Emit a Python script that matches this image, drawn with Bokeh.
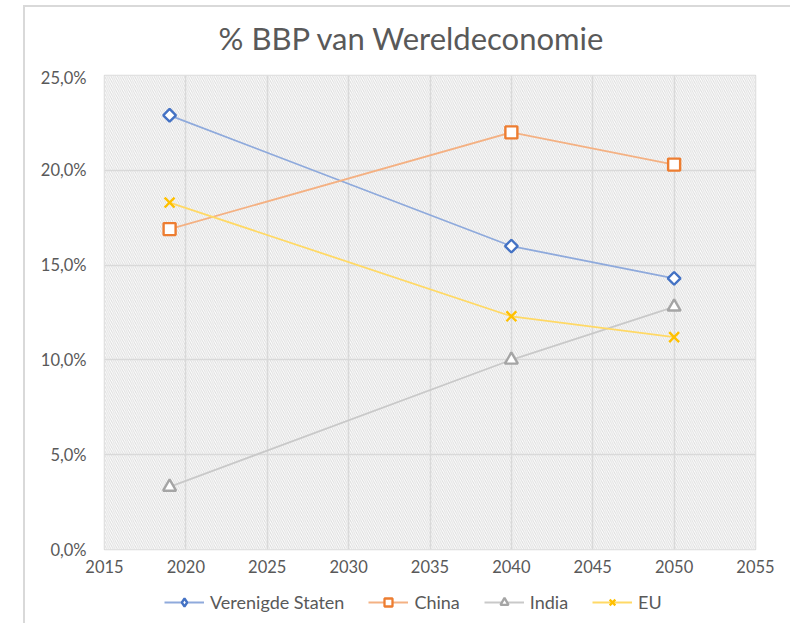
from bokeh.plotting import figure
from bokeh.layouts import column
from bokeh.models import (Range1d, FixedTicker, CustomJSTickFormatter, Legend, LegendItem, Label)
from bokeh.embed import file_html
from bokeh.resources import INLINE

# ---- data ----
years = [2019, 2040, 2050]
us = [22.9, 16.0, 14.3]
china = [16.9, 22.0, 20.3]
india = [3.3, 10.0, 12.8]
eu = [18.3, 12.3, 11.2]
series_names = ["Verenigde Staten", "China", "India", "EU"]
x_ticks = [2015, 2020, 2025, 2030, 2035, 2040, 2045, 2050, 2055]
y_ticks = [0, 5, 10, 15, 20, 25]
title_text = "% BBP van Wereldeconomie"

FONT = "Lato"
TXT = "#595959"
GRID = "#d9d9d9"
W = 765

x0, x1 = x_ticks[0], x_ticks[-1]
y0, y1 = y_ticks[0], y_ticks[-1]

# ---- title strip (frame aligned with the chart frame by the column) ----
tf = figure(width=W, height=60, output_backend="svg", toolbar_location=None,
            x_axis_type=None, y_axis_type=None, x_range=Range1d(0, 1), y_range=Range1d(0, 1),
            min_border=0, outline_line_color=None, border_fill_color="white",
            background_fill_color="white")
tf.add_layout(Label(x=307.5, y=0.5, x_units="screen", y_units="data", text=title_text,
                    text_font=FONT, text_font_size="31px", text_color=TXT,
                    text_align="center", text_baseline="middle"))

# ---- main chart ----
p = figure(width=W, height=516, output_backend="svg", toolbar_location=None,
           x_range=Range1d(x0, x1), y_range=Range1d(y0, y1),
           min_border_left=79, min_border_right=35, min_border_top=8, min_border_bottom=34,
           background_fill_color="white", border_fill_color="white")

p.outline_line_color = GRID
p.outline_line_width = 1.5

# hatched plot area (below the grid)
p.quad(left=[x0], right=[x1], bottom=[y0], top=[y1], fill_color="white", line_color=None,
       hatch_pattern="left_diagonal_line", hatch_color="#dcdcdc",
       hatch_scale=4.3, hatch_weight=1, level="image")

p.xaxis.ticker = FixedTicker(ticks=x_ticks)
p.yaxis.ticker = FixedTicker(ticks=y_ticks)
p.yaxis.formatter = CustomJSTickFormatter(code="return tick.toFixed(1).replace('.', ',') + '%';")
p.xaxis.formatter = CustomJSTickFormatter(code="return tick.toFixed(0);")
for ax in (p.xaxis, p.yaxis):
    ax.axis_line_color = None
    ax.major_tick_line_color = None
    ax.minor_tick_line_color = None
    ax.major_tick_in = 0
    ax.major_tick_out = 0
    ax.major_label_text_font = FONT
    ax.major_label_text_font_size = "16.5px"
    ax.major_label_text_color = TXT
p.yaxis.major_label_standoff = 18
p.xaxis.major_label_standoff = 10

p.xgrid.grid_line_color = GRID
p.ygrid.grid_line_color = GRID
p.xgrid.grid_line_width = 1.5
p.ygrid.grid_line_width = 1.5

line_cols = ["#8faadc", "#f4b183", "#c9c9c9", "#ffd966"]
mark_cols = ["#4472c4", "#ed7d31", "#a5a5a5", "#ffc000"]
markers = ["square", "square", "triangle", "x"]
legend_markers = ["diamond", "square", "triangle", "x"]
angles = [0.7854, 0, 0, 0]
sizes = [9, 12, 13, 14]
legend_sizes = [11, 9, 10, 12]
data = [us, china, india, eu]

for name, vals, lc, mc, mk, ang, sz in zip(series_names, data, line_cols, mark_cols, markers, angles, sizes):
    p.line(years, vals, line_color=lc, line_width=1.8)
    p.scatter(years, vals, marker=mk, size=sz, angle=ang, line_color=mc,
              fill_color="white", line_width=2.4)

# ---- legend strip (its renderers fall outside its ranges) ----
lf = figure(width=W, height=40, output_backend="svg", toolbar_location=None,
            x_axis_type=None, y_axis_type=None, x_range=Range1d(0, 1), y_range=Range1d(0, 1),
            min_border=0, outline_line_color=None, border_fill_color="white",
            background_fill_color="white")
items = []
for name, vals, lc, mc, mk, sz in zip(series_names, data, line_cols, mark_cols, legend_markers, legend_sizes):
    lr = lf.line(years, vals, line_color=lc, line_width=1.8)
    sr = lf.scatter(years, vals, marker=mk, size=sz, line_color=mc, fill_color="white", line_width=2.3)
    items.append(LegendItem(label=name, renderers=[lr, sr]))

legend = Legend(items=items, orientation="horizontal", location=(60, 10),
                label_text_font=FONT, label_text_font_size="18px", label_text_color=TXT,
                glyph_width=40, glyph_height=20, label_standoff=6, spacing=24,
                padding=4, margin=0, border_line_color=None, background_fill_alpha=0)
lf.add_layout(legend, "center")

layout = column(tf, p, lf, margin=(5, 0, 0, 23), spacing=0)
layout.styles = {"border-left": "2px solid #d9d9d9", "border-top": "2px solid #d9d9d9"}

open("out.html", "w").write(file_html(layout, INLINE))
